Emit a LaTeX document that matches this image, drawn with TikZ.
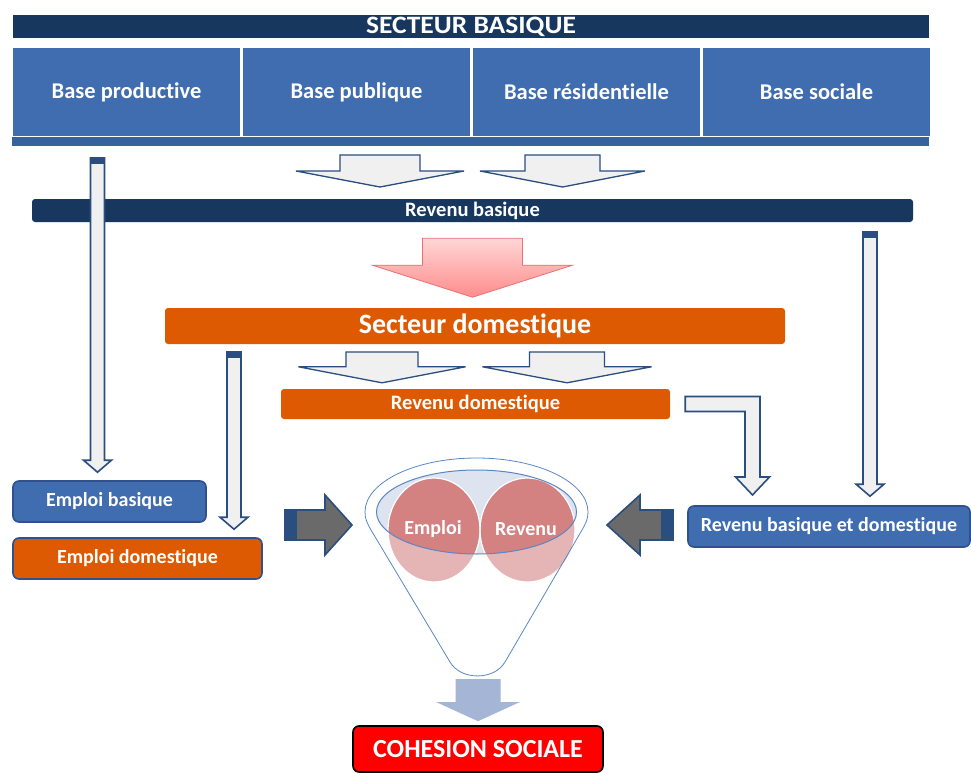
\documentclass[tikz,border=0pt]{standalone}
\usepackage{fontspec}
\setmainfont{Carlito}[Ligatures=NoCommon]
\newfontfamily\widefont{Carlito}[FakeStretch=1.1]
\usetikzlibrary{calc, positioning}

\definecolor{navy}{HTML}{17375E}
\definecolor{baseblue}{HTML}{3F6DB0}
\definecolor{stripblue}{HTML}{36639B}
\definecolor{domorange}{HTML}{DD5A03}
\definecolor{arrowline}{HTML}{2A4E7E}
\definecolor{arrowfill}{HTML}{F0F0F0}
\definecolor{pinkline}{HTML}{E57373}
\definecolor{pinktop}{HTML}{FFD6D6}
\definecolor{pinkbot}{HTML}{FF8C8C}
\definecolor{grayarrow}{HTML}{6A6A6A}
\definecolor{circdark}{HTML}{D38181}
\definecolor{circlight}{HTML}{E5B5B5}
\definecolor{funnelline}{HTML}{5A87C5}
\definecolor{funnelfill}{HTML}{DDE4F0}
\definecolor{outblue}{HTML}{A5B5D6}
\definecolor{boxborder}{HTML}{2F528F}

\newcommand{\fsz}[1]{\bfseries\fontsize{#1}{#1}\selectfont}

% block arrows: [style]{start}{tip}{half shaft}{half head}{head length}
\newcommand{\downblock}[6][]{%
  \draw[#1] let \p1=#2, \p2=#3 in
    (\x1-#4,\y1) -- (\x1+#4,\y1) -- (\x1+#4,\y2+#6) -- (\x1+#5,\y2+#6)
    -- (\x1,\y2) -- (\x1-#5,\y2+#6) -- (\x1-#4,\y2+#6) -- cycle;}
\newcommand{\rightblock}[6][]{%
  \draw[#1] let \p1=#2, \p2=#3 in
    (\x1,\y1+#4) -- (\x2-#6,\y1+#4) -- (\x2-#6,\y1+#5) -- (\x2,\y1)
    -- (\x2-#6,\y1-#5) -- (\x2-#6,\y1-#4) -- (\x1,\y1-#4) -- cycle;}
\newcommand{\leftblock}[6][]{%
  \draw[#1] let \p1=#2, \p2=#3 in
    (\x1,\y1+#4) -- (\x2+#6,\y1+#4) -- (\x2+#6,\y1+#5) -- (\x2,\y1)
    -- (\x2+#6,\y1-#5) -- (\x2+#6,\y1-#4) -- (\x1,\y1-#4) -- cycle;}
\newcommand{\thinblock}[2]{%
  \downblock[blockarrow]{#1}{#2}{7pt}{14pt}{12pt}
  \fill[arrowline] let \p1=#1 in (\x1-7pt,\y1) rectangle (\x1+7pt,\y1-6pt);}

\tikzset{
  txt/.style={text=white, font=\fsz{20}, inner sep=0pt, align=center},
  bar/.style={txt, fill=navy, rounded corners=3pt},
  basebox/.style={txt, fill=baseblue, minimum width=227, minimum height=87, font=\fsz{22.5}},
  pill/.style={txt, draw=boxborder, line width=1.6pt, rounded corners=6pt, minimum height=41},
  blockarrow/.style={fill=arrowfill, draw=arrowline, line width=1.6pt},
  pinkarrow/.style={top color=pinktop, bottom color=pinkbot, draw=pinkline, line width=0.8pt},
  grayblock/.style={fill=grayarrow, draw=arrowline, line width=1.6pt},
}

\begin{document}
\begin{tikzpicture}[x=1pt, y=-1pt]
  \useasboundingbox[fill=white] (0,0) rectangle (971,773);

  % secteur basique
  \node[bar, rounded corners=0pt, minimum width=916, minimum height=23, font=\widefont\fsz{25}] (sb) at (471,26.5) {SECTEUR BASIQUE};
  \foreach \nm/\txt [count=\i from 0] in {prod/Base productive, pub/Base publique, res/Base résidentielle, soc/Base sociale}
    \node[basebox] (\nm) at (126.5+230*\i,92) {\txt};
  \node[fill=stripblue, minimum width=917, minimum height=9, inner sep=0pt] (strip) at (470.5,141.5) {};

  \coordinate (w1) at (380,155);
  \coordinate (w2) at (562.5,155);
  \downblock[blockarrow, line width=1.3pt]{(w1)}{($(w1 |- 0,199)+(0,-12)$)}{40pt}{84pt}{16pt}
  \downblock[blockarrow, line width=1.3pt]{(w2)}{($(w2 |- 0,199)+(0,-12)$)}{37.5pt}{82.5pt}{16pt}

  \node[bar, minimum width=881, minimum height=23, font=\fsz{20.5}] (rb) at (472.5,210.5) {Revenu basique};

  % long arrows
  \coordinate (t1) at (97.5,158);
  \coordinate (t3) at (870,232);

  \downblock[pinkarrow]{($(rb.south)+(0,16)$)}{($(rb.south)+(0,75)$)}{50pt}{100pt}{32pt}

  % secteur domestique
  \node[bar, fill=domorange, minimum width=620, minimum height=36, font=\fsz{28}] (sd) at (475,326) {Secteur domestique};
  \coordinate (w3) at (382,352);
  \coordinate (w4) at (567,352);
  \coordinate (t2) at (234,352);
  \node[bar, fill=domorange, minimum width=389, minimum height=30, font=\fsz{20.5}] (rd) at (475.5,404) {Revenu domestique};
  \downblock[blockarrow, line width=1.3pt]{(w3)}{($(w3 |- rd.north)+(0,-6)$)}{36pt}{83.5pt}{16pt}
  \downblock[blockarrow, line width=1.3pt]{(w4)}{($(w4 |- rd.north)+(0,-6)$)}{37.5pt}{84.5pt}{16pt}

  \node[pill, fill=baseblue, minimum width=193] (eb) at (109.5,501.5) {Emploi basique};
  \node[pill, fill=domorange, minimum width=249] (ed) at (137.5,558.5) {Emploi domestique};
  \node[pill, fill=baseblue, minimum width=282] (rbd) at (829,526.5) {Revenu basique et domestique};

  \thinblock{(t1)}{($(t1 |- eb.north)+(0,-8)$)}
  \thinblock{(t2)}{($(t2 |- ed.north)+(0,-8)$)}
  \thinblock{(t3)}{($(t3 |- rbd.north)+(0,-9)$)}

  % bent arrow
  \coordinate (bs) at ($(rd.east)+(15,0)$);
  \coordinate (bt) at (752.5,495);
  \draw[blockarrow] let \p1=(bs), \p2=(bt) in
    (\x1,\y1+7.5pt) -- (\x2+7.5pt,\y1+7.5pt) -- (\x2+7.5pt,\y2+18pt) -- (\x2+17pt,\y2+18pt)
    -- (\x2,\y2) -- (\x2-17pt,\y2+18pt) -- (\x2-7.5pt,\y2+18pt) -- (\x2-7.5pt,\y1-7.5pt)
    -- (\x1,\y1-7.5pt) -- cycle;

  % funnel
  \coordinate (fun) at (476.5,512);
  \fill[funnelfill] (fun) ellipse [x radius=100pt, y radius=42pt];
  \fill[circlight] (434,530) ellipse [x radius=46pt, y radius=52pt];
  \fill[circlight] (527.5,530) ellipse [x radius=47.5pt, y radius=52pt];
  \begin{scope}
    \clip (fun) ellipse [x radius=100pt, y radius=42pt];
    \fill[circdark] (434,530) ellipse [x radius=46pt, y radius=52pt];
    \fill[circdark] (527.5,530) ellipse [x radius=47.5pt, y radius=52pt];
  \end{scope}
  \draw[white, line width=1.2pt] (434,530) ellipse [x radius=46pt, y radius=52pt];
  \draw[white, line width=1.2pt] (527.5,530) ellipse [x radius=47.5pt, y radius=52pt];
  \draw[funnelline, line width=1pt] (fun) ellipse [x radius=100pt, y radius=42pt];
  \draw[funnelline, line width=0.8pt] (365,512) arc [start angle=180, end angle=0, x radius=111.5pt, y radius=54pt]
    to[out=-90, in=61] (582,530) -- (505,662) to[out=-120, in=-60] (450,662) -- (371,530) to[out=119, in=-90] cycle;
  \node[txt] (em) at (433,529) {Emploi};
  \node[txt] (rv) at (526,529) {Revenu};

  % side arrows
  \coordinate (gl) at (285,525);
  \coordinate (gr) at (673,525);
  \rightblock[grayblock]{(gl)}{($(gl)+(67,0)$)}{15pt}{30pt}{27pt}
  \fill[arrowline] let \p1=(gl) in (\x1,\y1-15pt) rectangle (\x1+12pt,\y1+15pt);
  \leftblock[grayblock]{(gr)}{($(gr)+(-66,0)$)}{15pt}{30pt}{33pt}
  \fill[arrowline] let \p1=(gr) in (\x1,\y1-15pt) rectangle (\x1-12pt,\y1+15pt);

  % cohesion
  \node[txt, fill=red, draw=black, line width=1.6pt, rounded corners=6pt, minimum width=250, minimum height=46, font=\fsz{26}] (cs) at (478,749) {COHESION SOCIALE};
  \downblock[fill=outblue, draw=none]{($(cs.north)+(0,-46)$)}{($(cs.north)+(0,-4)$)}{22.5pt}{41.5pt}{19pt}
\end{tikzpicture}
\end{document}
